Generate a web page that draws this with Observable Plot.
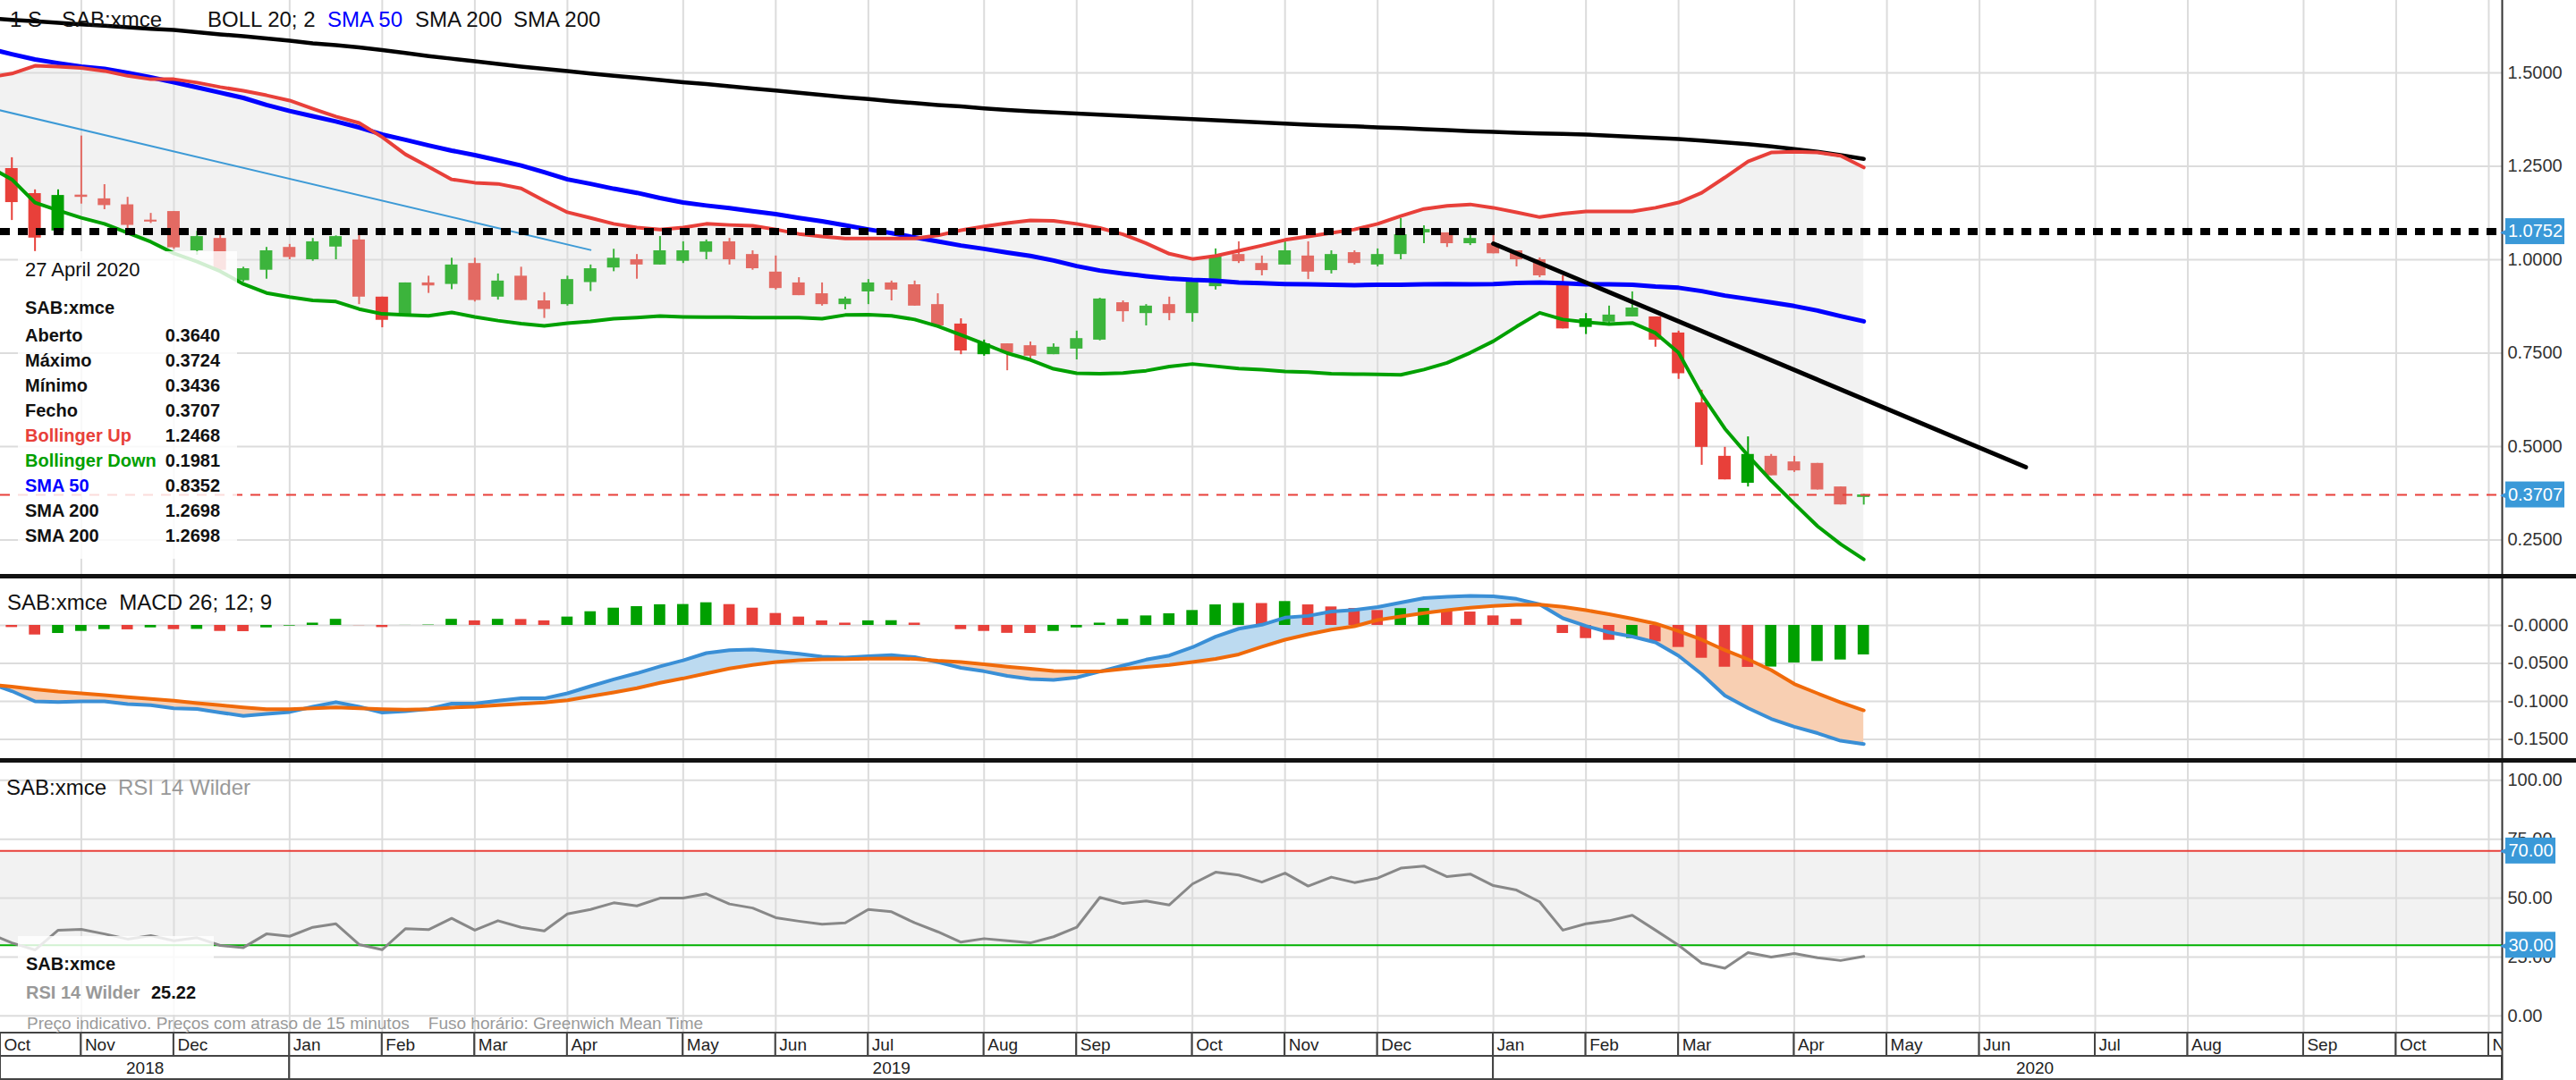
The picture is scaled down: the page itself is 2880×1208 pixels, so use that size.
<!DOCTYPE html>
<html><head><meta charset="utf-8">
<script src="https://cdn.jsdelivr.net/npm/d3@7"></script>
<script src="https://cdn.jsdelivr.net/npm/@observablehq/plot@0.6"></script>
<style>
html,body{margin:0;padding:0;background:#fff;}
#root{position:relative;width:2880px;height:1208px;overflow:hidden;font-family:"Liberation Sans",Arial,Helvetica,sans-serif;}
#root svg{position:absolute;left:0;}
.abs{position:absolute;white-space:nowrap;line-height:1;}
.div{position:absolute;left:0;width:2880px;height:5px;background:#111;}
</style></head><body><div id="root"></div>
<script>
// ---------- DATA (weekly bars, index 0 = week of 1 Oct 2018) ----------
const weekZero = "2018-10-01";
const candleStart = 2;      // first visible candle index
const indStart = 1;         // first indicator index

const open = [1.244,1.177,1.077,1.173,1.163,1.147,1.106,1.129,1.024,1.057,
 0.944,0.972,1.033,1.000,1.034,1.053,0.900,0.852,0.938,0.934,
 0.990,0.900,0.956,0.890,0.880,0.939,0.978,1.000,0.986,0.996,
 1.020,1.048,1.014,0.967,0.938,0.909,0.880,0.914,0.938,0.933,
 0.880,0.828,0.746,0.775,0.770,0.746,0.761,0.785,0.885,0.856,
 0.880,0.856,0.928,1.014,0.990,0.986,1.010,0.971,1.019,0.986,
 1.014,1.072,1.072,1.043,1.043,1.024,1.000,0.936,0.819,0.833,
 0.847,0.847,0.804,0.617,0.474,0.402,0.474,0.459,0.455,0.392,
 0.3640];
const high = [1.273,1.187,1.187,1.331,1.201,1.167,1.124,1.129,1.076,1.076,
 0.980,1.033,1.041,1.057,1.064,1.066,0.900,0.938,0.956,1.004,
 1.004,0.962,0.980,0.912,0.956,0.986,1.028,1.014,1.062,1.048,
 1.053,1.057,1.024,1.010,0.952,0.938,0.900,0.947,0.943,0.943,
 0.909,0.842,0.785,0.775,0.780,0.775,0.809,0.897,0.890,0.880,
 0.900,0.943,1.029,1.048,1.010,1.048,1.048,1.024,1.024,1.029,
 1.110,1.091,1.072,1.077,1.084,1.024,1.005,0.957,0.856,0.876,
 0.914,0.847,0.809,0.651,0.498,0.526,0.479,0.474,0.455,0.392,
 0.3724];
const low = [1.105,1.022,1.068,1.149,1.134,1.081,1.097,1.028,1.012,0.968,
 0.940,0.948,1.000,0.996,1.000,0.880,0.818,0.852,0.910,0.920,
 0.887,0.892,0.891,0.843,0.876,0.915,0.968,0.948,0.986,0.990,
 1.000,0.986,0.972,0.919,0.904,0.876,0.866,0.880,0.890,0.876,
 0.823,0.746,0.742,0.703,0.732,0.746,0.732,0.783,0.833,0.823,
 0.837,0.833,0.919,0.990,0.957,0.986,0.947,0.962,0.986,0.981,
 1.000,1.043,1.033,1.038,1.016,0.981,0.952,0.815,0.800,0.830,
 0.847,0.766,0.680,0.450,0.411,0.392,0.422,0.431,0.384,0.344,
 0.3436];
const close = [1.153,1.058,1.172,1.167,1.145,1.092,1.101,1.032,1.062,0.972,
 0.976,1.024,1.006,1.048,1.062,0.900,0.838,0.938,0.930,0.986,
 0.891,0.943,0.891,0.867,0.947,0.976,1.004,0.986,1.024,1.024,
 1.048,1.000,0.976,0.923,0.904,0.880,0.895,0.938,0.919,0.876,
 0.823,0.756,0.775,0.751,0.742,0.766,0.789,0.895,0.861,0.876,
 0.856,0.943,1.010,0.995,0.971,1.024,0.967,1.014,0.990,1.014,
 1.067,1.081,1.043,1.057,1.016,1.000,0.957,0.815,0.842,0.852,
 0.871,0.785,0.695,0.498,0.411,0.479,0.422,0.435,0.384,0.344,
 0.3707];

const bollUp = [1.488,1.498,1.519,1.517,1.513,1.505,1.492,1.483,1.483,1.474,
 1.462,1.452,1.440,1.426,1.404,1.383,1.366,1.328,1.282,1.249,
 1.215,1.206,1.203,1.191,1.158,1.127,1.112,1.096,1.086,1.081,
 1.086,1.096,1.093,1.091,1.081,1.069,1.062,1.057,1.057,1.057,
 1.057,1.065,1.079,1.089,1.098,1.105,1.104,1.096,1.085,1.068,
 1.044,1.016,1.002,1.010,1.024,1.038,1.053,1.062,1.072,1.081,
 1.096,1.117,1.136,1.144,1.148,1.139,1.127,1.114,1.123,1.129,
 1.129,1.129,1.139,1.153,1.179,1.220,1.263,1.287,1.289,1.287,
 1.278,1.2468];
const bollDown = [1.249,1.215,1.153,1.132,1.112,1.096,1.072,1.048,1.017,0.995,
 0.969,0.935,0.911,0.900,0.891,0.888,0.868,0.855,0.852,0.850,
 0.859,0.847,0.837,0.829,0.823,0.830,0.835,0.842,0.845,0.849,
 0.847,0.846,0.846,0.845,0.845,0.845,0.842,0.852,0.853,0.850,
 0.840,0.822,0.799,0.775,0.750,0.732,0.708,0.696,0.695,0.697,
 0.703,0.714,0.721,0.715,0.709,0.706,0.701,0.699,0.695,0.694,
 0.693,0.692,0.706,0.724,0.751,0.782,0.821,0.858,0.840,0.833,
 0.828,0.831,0.804,0.751,0.639,0.548,0.476,0.409,0.347,0.287,
 0.239,0.1981];
const sma50 = [1.565,1.550,1.536,1.526,1.517,1.511,1.500,1.488,1.475,1.461,
 1.447,1.433,1.414,1.398,1.384,1.370,1.354,1.335,1.321,1.306,
 1.292,1.280,1.266,1.252,1.234,1.215,1.203,1.190,1.179,1.165,
 1.153,1.145,1.138,1.130,1.122,1.112,1.103,1.092,1.081,1.071,
 1.060,1.049,1.038,1.029,1.019,1.010,0.998,0.983,0.971,0.963,
 0.956,0.950,0.946,0.944,0.939,0.937,0.935,0.934,0.933,0.932,
 0.933,0.933,0.934,0.935,0.934,0.935,0.938,0.939,0.937,0.934,
 0.934,0.933,0.928,0.925,0.916,0.904,0.895,0.886,0.876,0.864,
 0.849,0.8352];
const sma200 = [1.646,1.642,1.638,1.634,1.630,1.626,1.622,1.618,1.615,1.609,
 1.603,1.598,1.592,1.586,1.579,1.574,1.568,1.561,1.553,1.545,
 1.538,1.531,1.524,1.517,1.511,1.505,1.498,1.492,1.487,1.481,
 1.475,1.470,1.464,1.458,1.453,1.447,1.441,1.435,1.430,1.424,
 1.419,1.414,1.410,1.405,1.401,1.397,1.394,1.391,1.388,1.385,
 1.382,1.379,1.376,1.373,1.370,1.367,1.364,1.361,1.359,1.357,
 1.354,1.352,1.349,1.347,1.344,1.342,1.340,1.338,1.337,1.335,
 1.332,1.329,1.326,1.323,1.319,1.314,1.309,1.303,1.296,1.289,
 1.280,1.2698];
const macdLine = [-0.076,-0.0865,-0.100,-0.101,-0.100,-0.100,-0.1035,-0.105,-0.109,-0.110,
 -0.1147,-0.119,-0.1165,-0.114,-0.107,-0.101,-0.107,-0.1147,-0.113,-0.110,
 -0.103,-0.103,-0.099,-0.096,-0.096,-0.0894,-0.080,-0.071,-0.063,-0.054,
 -0.046,-0.0365,-0.0326,-0.0318,-0.0345,-0.0373,-0.0412,-0.0424,-0.0406,-0.0392,
 -0.0418,-0.0482,-0.0559,-0.0604,-0.0665,-0.0706,-0.0718,-0.0686,-0.0608,-0.0529,
 -0.0451,-0.0396,-0.0288,-0.0149,-0.0044,0.0008,0.0102,0.0125,0.0182,0.0204,
 0.0241,0.0300,0.0359,0.0376,0.0388,0.0382,0.0349,0.0276,0.0094,-0.0008,
 -0.0091,-0.0147,-0.0224,-0.040,-0.0641,-0.0924,-0.1088,-0.123,-0.1333,-0.1418,
 -0.1518,-0.1561];
const macdSignal = [-0.0776,-0.0806,-0.0841,-0.0871,-0.0894,-0.0918,-0.0945,-0.0968,-0.0992,-0.1024,
 -0.1051,-0.1079,-0.1102,-0.1102,-0.1091,-0.1079,-0.1091,-0.1102,-0.1109,-0.1102,
 -0.1082,-0.1071,-0.1051,-0.1033,-0.1015,-0.0985,-0.0933,-0.0882,-0.0827,-0.0756,
 -0.0698,-0.0632,-0.0568,-0.0521,-0.0482,-0.0459,-0.0447,-0.0444,-0.0439,-0.0435,
 -0.0441,-0.0465,-0.0482,-0.0512,-0.0544,-0.0571,-0.0600,-0.0606,-0.0606,-0.0573,
 -0.0547,-0.0521,-0.0482,-0.0441,-0.0382,-0.0282,-0.0188,-0.0118,-0.0055,-0.0012,
 0.0071,0.0118,0.0162,0.0200,0.0232,0.0255,0.0271,0.0274,0.0244,0.0200,
 0.0147,0.0088,0.0024,-0.0076,-0.0188,-0.0326,-0.0447,-0.0588,-0.0771,-0.0894,
 -0.1012,-0.1118];
const macdHist = [0.0,-0.0028,-0.0126,-0.0106,-0.0079,-0.0055,-0.0058,-0.0032,-0.0055,-0.0052,
 -0.0079,-0.0082,-0.0032,-0.0008,0.003,0.008,-0.0002,-0.0028,0.0001,0.0005,
 0.008,0.006,0.008,0.0078,0.006,0.011,0.018,0.0227,0.0247,0.0272,
 0.0275,0.0298,0.0274,0.0227,0.0157,0.011,0.006,0.003,0.006,0.0062,
 0.003,0.0,-0.0055,-0.0079,-0.0104,-0.0106,-0.0079,-0.0032,0.003,0.008,
 0.0125,0.0153,0.0196,0.027,0.029,0.0288,0.0314,0.027,0.0243,0.0223,
 0.0196,0.0221,0.0223,0.0196,0.0176,0.0125,0.008,0.0,-0.0106,-0.0173,
 -0.0196,-0.0173,-0.0216,-0.029,-0.0432,-0.055,-0.0552,-0.0548,-0.0494,-0.0475,
 -0.0455,-0.0388];
const rsi = [35,31.0,28.0,36.4,36.7,34.8,32.6,34.1,31.9,33.2,
 29.9,29.0,34.8,33.8,37.6,39.1,30.3,28.1,37.0,36.6,
 41.4,36.4,40.4,37.6,36.1,43.3,45.2,48.0,46.7,50.0,
 50.0,51.8,47.5,45.8,41.7,40.2,38.9,39.5,45.2,44.2,
 39.5,35.7,31.3,32.8,31.9,31.0,33.6,37.6,50.3,47.7,
 48.8,47.1,56.0,61.0,59.8,56.8,60.6,55.1,58.9,56.6,
 58.5,62.7,63.6,59.1,60.2,55.3,53.4,48.4,36.4,39.1,
 40.4,42.7,36.4,30.0,22.4,20.2,26.9,25.0,26.5,24.7,
 23.5,25.22];

// drawings
const resistanceLevel = 1.0752;
const trendIdx = [66, 89], trendVal = [1.043, 0.445];
const oldTrendIdx = [1, 27], oldTrendVal = [1.407, 1.026];
const rsiLevels = [70, 30];

// axis ticks / labels
const priceTicks = [0.25, 0.5, 0.75, 1.0, 1.25, 1.5];
const macdTicks = [0, -0.05, -0.10, -0.15];
const rsiTicks = [0, 25, 50, 75, 100];
const monthIdx = [0,5,9,14,18,22,26,31,35,39,44,48,53,57,61,66,70,74,79,83,87,92,96,101,105,109];
const monthLabels = ["Oct","Nov","Dec","Jan","Feb","Mar","Apr","May","Jun","Jul","Aug","Sep","Oct","Nov","Dec","Jan","Feb","Mar","Apr","May","Jun","Jul","Aug","Sep","Oct","Nov"];
const yearIdx = [0, 14, 66];
const yearLabels = ["2018", "2019", "2020"];
const symbol = "SAB:xmce";
const infoLabels = ["Aberto","Máximo","Mínimo","Fecho","Bollinger Up","Bollinger Down","SMA 50","SMA 200","SMA 200"];

// ---------- LAYOUT ----------
const W = 2880, PW = 2797;
const X0 = 1.507, X1 = 109.58;
const kx = (X1 - X0) / PW;           // index units per pixel
const BADGE = "#3a99d8";
const RED_L = "#e36a63", RED_D = "#e8403a", GRN_L = "#3cb43c", GRN_D = "#00a000";
const GRID = "#dcdcdc";
const font = "Liberation Sans, Arial, Helvetica, sans-serif";

const candles = open.map((o, k) => ({i: candleStart + k, o, h: high[k], l: low[k], c: close[k], dn: bollDown[candleStart - indStart + k]}));
const ind = bollUp.map((u, k) => ({i: indStart + k, up: u, dn: bollDown[k], s50: sma50[k], s200: sma200[k],
  macd: macdLine[k], sig: macdSignal[k], hist: macdHist[k], prevHist: k ? macdHist[k-1] : 0, rsi: rsi[k]}));
const candleColor = d => {
  const dark = Math.min(d.o, d.c) < d.dn;
  return d.c >= d.o ? (dark ? GRN_D : GRN_L) : (dark ? RED_D : RED_L);
};
const monthVis = monthIdx.filter(m => m > X0 && m < X1);

function panel(top, h, ydom, yaxis, marks) {
  const svg = Plot.plot({
    width: W, height: h, marginLeft: 0, marginRight: W - PW, marginTop: 0, marginBottom: 0,
    x: {type: "linear", domain: [X0, X1], range: [0, PW], axis: null},
    y: Object.assign({type: "linear", domain: ydom, range: [h, 0]}, yaxis),
    style: {fontFamily: font, fontSize: "20px", color: "#333", background: "transparent", overflow: "visible"},
    marks
  });
  svg.style.top = top + "px";
  return svg;
}
function badges(values, halfPx, pxPerUnit, widthPx, fmt) {
  const hu = halfPx / pxPerUnit;
  return [
    Plot.rect(values, {x1: X1 + 4 * kx, x2: X1 + (4 + widthPx) * kx, y1: d => d - hu, y2: d => d + hu, fill: BADGE}),
    Plot.text(values, {x: X1 + 5 * kx, y: d => d, text: () => "◀", fill: BADGE, fontSize: 11, textAnchor: "end"}),
    Plot.text(values, {x: X1 + (4 + widthPx / 2) * kx, y: d => d, text: fmt, fill: "white", fontSize: 20})
  ];
}
const axisLine = Plot.ruleX([X1], {stroke: "#333", strokeWidth: 2});
const vgrid = Plot.ruleX(monthVis, {stroke: GRID, strokeWidth: 2});

const root = document.getElementById("root");

// ---------- MAIN PRICE PANEL ----------
const mainH = 642;
const mainPx = 418;                                    // px per price unit
const mainDom = [1 - (mainH - 290) / mainPx, 1 + 290 / mainPx];
const lastClose = close[close.length - 1];
root.appendChild(panel(0, mainH, mainDom,
  {axis: "right", ticks: priceTicks, tickSize: 0, tickPadding: 6, tickFormat: d3.format(".4f"), label: null},
  [
    Plot.areaY(ind, {x: "i", y1: "dn", y2: "up", fill: "#f2f2f2", clip: true}),
    Plot.ruleY(priceTicks, {stroke: GRID, strokeWidth: 2}),
    vgrid,
    Plot.line(oldTrendIdx.map((i, k) => ({i, v: oldTrendVal[k]})), {x: "i", y: "v", stroke: "#3d9ad6", strokeWidth: 2, clip: true}),
    Plot.ruleX(candles, {x: "i", y1: "l", y2: "h", stroke: candleColor, strokeWidth: 2}),
    Plot.rect(candles, {x1: d => d.i - 0.27, x2: d => d.i + 0.27,
      y1: d => Math.abs(d.o - d.c) < 0.004 ? (d.o + d.c) / 2 - 0.002 : d.o,
      y2: d => Math.abs(d.o - d.c) < 0.004 ? (d.o + d.c) / 2 + 0.002 : d.c, fill: candleColor}),
    Plot.line(ind, {x: "i", y: "s200", stroke: "#000", strokeWidth: 4.5, clip: true}),
    Plot.line(ind, {x: "i", y: "s50", stroke: "#0000ff", strokeWidth: 5, clip: true}),
    Plot.line(ind, {x: "i", y: "up", stroke: RED_D, strokeWidth: 4, clip: true}),
    Plot.line(ind, {x: "i", y: "dn", stroke: GRN_D, strokeWidth: 4, clip: true}),
    Plot.line(trendIdx.map((i, k) => ({i, v: trendVal[k]})), {x: "i", y: "v", stroke: "#000", strokeWidth: 5}),
    Plot.ruleY([resistanceLevel], {x1: X0, x2: X1, stroke: "#000", strokeWidth: 8, strokeDasharray: "11,9"}),
    Plot.ruleY([lastClose], {x1: X0, x2: X1, stroke: RED_D, strokeWidth: 2, strokeDasharray: "11,9"}),
    axisLine,
    ...badges([resistanceLevel, lastClose], 14.5, mainPx, 66, d3.format(".4f"))
  ]));

// ---------- MACD PANEL ----------
const macdTop = 647, macdH = 201, macdPx = 850, macdZero = 52;
root.appendChild(panel(macdTop, macdH, [(macdZero - macdH) / macdPx, macdZero / macdPx],
  {axis: "right", ticks: macdTicks, tickSize: 0, tickPadding: 6, tickFormat: d => "-" + Math.abs(d).toFixed(4), label: null},
  [
    Plot.ruleY(macdTicks, {stroke: GRID, strokeWidth: 2}),
    vgrid,
    Plot.areaY(ind, {x: "i", y1: "sig", y2: d => Math.max(d.macd, d.sig), fill: "#bcdaf0", clip: true}),
    Plot.areaY(ind, {x: "i", y1: d => Math.min(d.macd, d.sig), y2: "sig", fill: "#f8cfb2", clip: true}),
    Plot.rect(ind, {x1: d => d.i - 0.245, x2: d => d.i + 0.245, y1: 0, y2: "hist",
      fill: d => d.hist > d.prevHist ? GRN_D : RED_D, clip: true}),
    Plot.line(ind, {x: "i", y: "macd", stroke: "#3a8fd6", strokeWidth: 4, clip: true}),
    Plot.line(ind, {x: "i", y: "sig", stroke: "#f06a0a", strokeWidth: 4, clip: true}),
    axisLine
  ]));

// ---------- RSI PANEL ----------
const rsiTop = 853, rsiH = 301, rsiPx = 2.635, rsiZero = 282.8;
root.appendChild(panel(rsiTop, rsiH, [(rsiZero - rsiH) / rsiPx, rsiZero / rsiPx],
  {axis: "right", ticks: rsiTicks, tickSize: 0, tickPadding: 6, tickFormat: d3.format(".2f"), label: null},
  [
    Plot.rect([rsiLevels], {x1: X0, x2: X1, y1: d => d[1], y2: d => d[0], fill: "#f2f2f2"}),
    Plot.ruleY(rsiTicks, {stroke: GRID, strokeWidth: 2}),
    vgrid,
    Plot.ruleY([rsiLevels[0]], {x1: X0, x2: X1, stroke: RED_D, strokeWidth: 2}),
    Plot.ruleY([rsiLevels[1]], {x1: X0, x2: X1, stroke: "#00b000", strokeWidth: 2}),
    Plot.line(ind, {x: "i", y: "rsi", stroke: "#888", strokeWidth: 3, clip: true}),
    axisLine,
    ...badges(rsiLevels, 14.5, rsiPx, 56, d3.format(".2f"))
  ]));

// ---------- X AXIS (month / year rows) ----------
const cellsM = monthIdx.map((m, k) => ({row: "m", x1: Math.max(m, X0), x2: k < monthIdx.length - 1 ? monthIdx[k + 1] : X1 + 5, label: monthLabels[k]}))
  .filter(d => d.x2 > X0);
const endIdx = X0 + W * kx;
const cellsY = yearIdx.map((y, k) => ({row: "y", x1: Math.max(y, X0), x2: k < yearIdx.length - 1 ? yearIdx[k + 1] : X1, label: yearLabels[k],
  c: (Math.max(y, X0) + (k < yearIdx.length - 1 ? yearIdx[k + 1] : endIdx)) / 2}));
const xa = Plot.plot({
  width: W, height: 54, marginLeft: 0, marginRight: W - PW, marginTop: 0, marginBottom: 0,
  x: {type: "linear", domain: [X0, X1], range: [0, PW], axis: null},
  y: {type: "band", domain: ["m", "y"], range: [1, 53], padding: 0, axis: null},
  style: {fontFamily: font, fontSize: "19px", color: "#222", background: "transparent", overflow: "visible"},
  marks: [
    Plot.barX(cellsM, {x1: "x1", x2: "x2", y: "row", fill: "white", stroke: "#444", strokeWidth: 2, clip: true}),
    Plot.barX(cellsY, {x1: "x1", x2: "x2", y: "row", fill: "white", stroke: "#444", strokeWidth: 2, clip: true}),
    Plot.text(cellsM, {x: "x1", y: "row", text: "label", textAnchor: "start", dx: 4, fill: "#222", clip: true}),
    Plot.text(cellsY, {x: "c", y: "row", text: "label", fill: "#222"}),
    axisLine
  ]
});
xa.style.top = "1154px";
root.appendChild(xa);

// dividers
[642, 848].forEach(t => { const d = document.createElement("div"); d.className = "div"; d.style.top = t + "px"; root.appendChild(d); });

// ---------- TEXT OVERLAYS ----------
function txt(s, left, top, size, color, weight, parent) {
  const e = document.createElement("div");
  e.className = "abs"; e.textContent = s;
  e.style.left = left + "px"; e.style.top = top + "px"; e.style.fontSize = size + "px";
  e.style.color = color || "#111"; if (weight) e.style.fontWeight = weight;
  (parent || root).appendChild(e); return e;
}
// header
txt("1 S", 11, 10, 24, "#111");
txt(symbol, 69, 10, 24, "#111");
txt("BOLL 20; 2", 232, 10, 24, "#111");
txt("SMA 50", 366, 10, 24, "#0000ff");
txt("SMA 200", 464, 10, 24, "#111");
txt("SMA 200", 574, 10, 24, "#111");

// info box
const box = document.createElement("div");
Object.assign(box.style, {position: "absolute", left: "20px", top: "281px", width: "245px", height: "344px", background: "rgba(255,255,255,0.82)"});
root.appendChild(box);
const lastDate = d3.utcDay.offset(new Date(weekZero + "T00:00:00Z"), 7 * (candleStart + close.length - 1));
txt(d3.utcFormat("%-d %B %Y")(lastDate), 28, 291, 22, "#111");
txt(symbol, 28, 334, 20, "#111", "bold");
const L = close.length - 1, N = ind.length - 1;
const infoVals = [open[L], high[L], low[L], close[L], bollUp[N], bollDown[N], sma50[N], sma200[N], sma200[N]];
const infoColors = ["#111", "#111", "#111", "#111", RED_D, GRN_D, "#0000ff", "#111", "#111"];
infoLabels.forEach((lab, k) => {
  txt(lab, 28, 365 + 28 * k, 20, infoColors[k], "bold");
  const v = txt(d3.format(".4f")(infoVals[k]), 0, 365 + 28 * k, 20, "#111", "bold");
  v.style.left = "auto"; v.style.right = (W - 246) + "px";
});

// MACD label
txt(symbol + "  MACD 26; 12; 9", 8, 662, 24, "#111").style.whiteSpace = "pre";

// RSI label
txt(symbol, 7, 869, 24, "#111");
txt("RSI 14 Wilder", 132, 869, 24, "#999");
const rbox = document.createElement("div");
Object.assign(rbox.style, {position: "absolute", left: "20px", top: "1047px", width: "219px", height: "88px", background: "rgba(255,255,255,0.82)"});
root.appendChild(rbox);
txt(symbol, 29, 1068, 20, "#111", "bold");
txt("RSI 14 Wilder", 29, 1100, 20, "#999", "bold");
txt(d3.format(".2f")(rsi[rsi.length - 1]), 169, 1100, 20, "#111", "bold");

// footer
txt("Preço indicativo. Preços com atraso de 15 minutos    Fuso horário: Greenwich Mean Time", 30, 1135, 19, "#9a9a9a").style.whiteSpace = "pre";
</script>
</body></html>
